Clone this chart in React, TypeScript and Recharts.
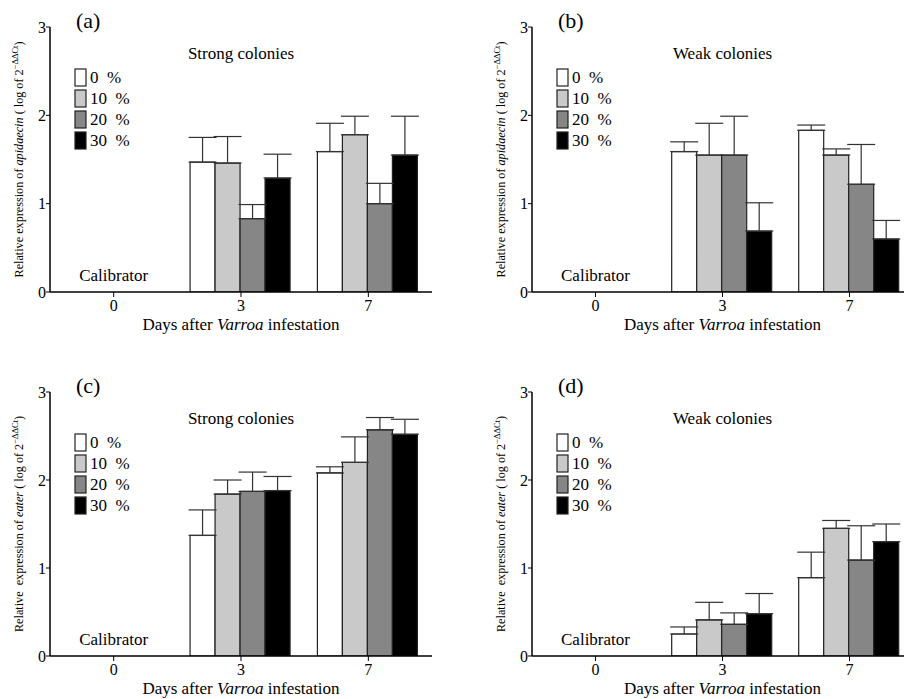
import React from 'react'
import {
  BarChart,
  Bar,
  XAxis,
  YAxis,
  ErrorBar,
  Customized,
} from 'recharts'

const FONT = "'Liberation Serif', 'Times New Roman', Times, 'DejaVu Serif', serif"
const X_AXIS_H = 30
const Y_AXIS_W = 50

// categories and groups
const days = ['0', '3', '7']
const levels = ['0  %', '10  %', '20  %', '30  %']
const levelFills = ['#ffffff', '#c9c9c9', '#868686', '#000000']

// rows = day (0, 3, 7), columns = level (0, 10, 20, 30 %)
const apiStrongMean = [
  [null, null, null, null],
  [1.47, 1.46, 0.83, 1.29],
  [1.59, 1.78, 1.0, 1.55],
]
const apiStrongSE = [
  [null, null, null, null],
  [0.28, 0.3, 0.16, 0.27],
  [0.32, 0.21, 0.23, 0.44],
]
const apiWeakMean = [
  [null, null, null, null],
  [1.59, 1.55, 1.55, 0.69],
  [1.83, 1.55, 1.22, 0.6],
]
const apiWeakSE = [
  [null, null, null, null],
  [0.11, 0.36, 0.44, 0.32],
  [0.06, 0.07, 0.45, 0.21],
]
const eaterStrongMean = [
  [null, null, null, null],
  [1.37, 1.84, 1.87, 1.88],
  [2.08, 2.2, 2.57, 2.52],
]
const eaterStrongSE = [
  [null, null, null, null],
  [0.29, 0.16, 0.22, 0.16],
  [0.07, 0.29, 0.14, 0.17],
]
const eaterWeakMean = [
  [null, null, null, null],
  [0.25, 0.41, 0.36, 0.48],
  [0.89, 1.45, 1.09, 1.3],
]
const eaterWeakSE = [
  [null, null, null, null],
  [0.08, 0.2, 0.13, 0.23],
  [0.29, 0.09, 0.39, 0.2],
]

const yTicks = [0, 1, 2, 3]

function buildRows(means: (number | null)[][], errs: (number | null)[][]) {
  return days.map((day, i) => {
    const row: Record<string, any> = { day }
    levels.forEach((_, j) => {
      row[`v${j}`] = means[i][j]
      row[`e${j}`] = errs[i][j] == null ? null : [0, errs[i][j]]
    })
    return row
  })
}

interface PanelProps {
  left: number
  top: number
  width: number
  height: number
  margin: { top: number; right: number; bottom: number; left: number }
  letter: string
  title: string
  gene: string
  geneGap?: boolean
  means: (number | null)[][]
  errs: (number | null)[][]
}

function Overlay({ m, h, w, letter, title, gene, geneGap }: any) {
  const px = m.left + Y_AXIS_W
  const py = m.top
  const pb = h - m.bottom - X_AXIS_H
  const pr = w - m.right
  const band = (pr - px) / days.length
  return (
    <g style={{ fontFamily: FONT }} fill="#000">
      <text x={px + 26} y={py + 1} fontSize={22}>
        {letter}
      </text>
      <text x={(px + pr) / 2} y={py + 32} fontSize={17} textAnchor="middle">
        {title}
      </text>
      {levels.map((lv, i) => (
        <g key={lv}>
          <rect
            x={px + 25}
            y={py + 42 + i * 21}
            width={11}
            height={17}
            fill={levelFills[i]}
            stroke="#222"
            strokeWidth={1.2}
          />
          <text x={px + 40} y={py + 56 + i * 21} fontSize={17} style={{ whiteSpace: 'pre' }}>
            {lv}
          </text>
        </g>
      ))}
      <text x={px + band / 2} y={pb - 11} fontSize={17} textAnchor="middle">
        Calibrator
      </text>
      <text x={(px + pr) / 2} y={pb + 38} fontSize={17} textAnchor="middle">
        Days after <tspan fontStyle="italic">Varroa</tspan> infestation
      </text>
      <text
        transform={`translate(${px - 27}, ${(py + pb) / 2}) rotate(-90)`}
        fontSize={12.2}
        textAnchor="middle"
        style={{ whiteSpace: 'pre' }}
      >
        {geneGap ? 'Relative  expression of ' : 'Relative expression of '}
        <tspan fontStyle="italic">{gene}</tspan>
        {' ( log of 2'}
        <tspan fontSize={8.5} dy={-5}>
          −ΔΔCt
        </tspan>
        <tspan dy={5}>)</tspan>
      </text>
    </g>
  )
}

function Panel(p: PanelProps) {
  const rows = buildRows(p.means, p.errs)
  return (
    <div style={{ position: 'absolute', left: p.left, top: p.top, fontFamily: FONT }}>
      <BarChart
        width={p.width}
        height={p.height}
        data={rows}
        margin={p.margin}
        barCategoryGap="10%"
        barGap={0}
        style={{ fontFamily: FONT }}
      >
        <XAxis
          dataKey="day"
          height={X_AXIS_H}
          tick={{ fontSize: 16, fill: '#000', fontFamily: FONT }}
          tickSize={5}
          tickMargin={3}
          tickLine={{ stroke: '#000' }}
          axisLine={{ stroke: '#000', strokeWidth: 1.5 }}
          interval={0}
        />
        <YAxis
          width={Y_AXIS_W}
          domain={[0, 3]}
          ticks={yTicks}
          allowDataOverflow
          tick={{ fontSize: 16, fill: '#000', fontFamily: FONT }}
          tickSize={4}
          tickMargin={0}
          tickLine={{ stroke: '#000' }}
          axisLine={{ stroke: '#000', strokeWidth: 1.5 }}
        />
        {levels.map((lv, j) => (
          <Bar
            key={lv}
            dataKey={`v${j}`}
            fill={levelFills[j]}
            stroke="#222"
            strokeWidth={1.2}
            isAnimationActive={false}
          >
            <ErrorBar
              dataKey={`e${j}`}
              direction="y"
              width={14}
              stroke="#333"
              strokeWidth={1.2}
              isAnimationActive={false}
            />
          </Bar>
        ))}
        <Customized
          component={
            <Overlay
              m={p.margin}
              h={p.height}
              w={p.width}
              letter={p.letter}
              title={p.title}
              gene={p.gene}
              geneGap={p.geneGap}
            />
          }
        />
      </BarChart>
    </div>
  )
}

export default function App() {
  const topM = { top: 27, right: 18, bottom: 18, left: 0 }
  const topMR = { top: 27, right: 17, bottom: 18, left: 32 }
  const botM = { top: 52, right: 18, bottom: 13, left: 0 }
  const botMR = { top: 52, right: 17, bottom: 13, left: 32 }
  return (
    <div
      style={{
        position: 'fixed',
        left: 0,
        top: 0,
        width: 904,
        height: 699,
        overflow: 'hidden',
        background: '#fff',
      }}
    >
      <Panel
        left={0}
        top={0}
        width={450}
        height={340}
        margin={topM}
        letter="(a)"
        title="Strong colonies"
        gene="apidaecin"
        means={apiStrongMean}
        errs={apiStrongSE}
      />
      <Panel
        left={450}
        top={0}
        width={480}
        height={340}
        margin={topMR}
        letter="(b)"
        title="Weak colonies"
        gene="apidaecin"
        means={apiWeakMean}
        errs={apiWeakSE}
      />
      <Panel
        left={0}
        top={340}
        width={450}
        height={359}
        margin={botM}
        letter="(c)"
        title="Strong colonies"
        gene="eater"
        geneGap
        means={eaterStrongMean}
        errs={eaterStrongSE}
      />
      <Panel
        left={450}
        top={340}
        width={480}
        height={359}
        margin={botMR}
        letter="(d)"
        title="Weak colonies"
        gene="eater"
        geneGap
        means={eaterWeakMean}
        errs={eaterWeakSE}
      />
    </div>
  )
}
